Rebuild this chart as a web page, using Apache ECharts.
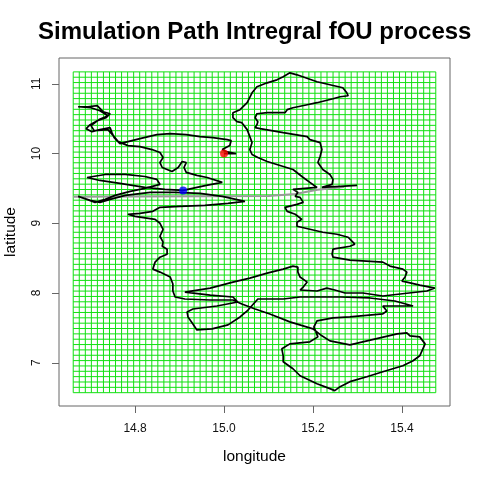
<!DOCTYPE html>
<html lang="en">
<head>
	<meta charset="UTF-8">
	<title>fOU path</title>
	<style>
		html, body { margin: 0; padding: 0; background: #fff; }
		#main { width: 480px; height: 480px; }
	</style>
	<script src="https://cdn.jsdelivr.net/npm/echarts@6.0.0/dist/echarts.min.js"></script>
</head>
<body>
	<div id="main"></div>
	<script>
		// simulated path (longitude / latitude)
		var lon = [15.000, 15.027, 15.004, 14.996, 15.013, 15.016, 15.007, 14.975, 14.946, 14.915,
			14.879, 14.849, 14.811, 14.784, 14.766, 14.753, 14.748, 14.744, 14.721, 14.703,
			14.690, 14.699, 14.715, 14.735, 14.744, 14.728, 14.715, 14.694, 14.672, 14.701,
			14.721, 14.739, 14.719, 14.701, 14.708, 14.739, 14.751, 14.762, 14.784, 14.811,
			14.838, 14.856, 14.863, 14.856, 14.861, 14.883, 14.897, 14.906, 14.915, 14.910,
			14.915, 14.939, 14.962, 14.996, 14.960, 14.908, 14.867, 14.822, 14.766, 14.721,
			14.692, 14.733, 14.778, 14.822, 14.849, 14.856, 14.822, 14.789, 14.755, 14.733,
			14.710, 14.692, 14.672, 14.699, 14.721, 14.744, 14.778, 14.834, 14.890, 14.946,
			14.996, 15.047, 15.009, 14.957, 14.901, 14.856, 14.840, 14.811, 14.784, 14.800,
			14.845, 14.856, 14.863, 14.856, 14.863, 14.861, 14.872, 14.872, 14.856, 14.845,
			14.840, 14.856, 14.879, 14.885, 14.885, 14.890, 14.912, 14.969, 15.020, 15.040,
			15.070, 15.103, 15.148, 15.200, 15.220, 15.238, 15.283, 15.389, 15.411, 15.418,
			15.440, 15.452, 15.440, 15.425, 15.402, 15.357, 15.321, 15.283, 15.261, 15.249,
			15.238, 15.209, 15.171, 15.155, 15.133, 15.133, 15.130, 15.148, 15.193, 15.211,
			15.202, 15.209, 15.245, 15.283, 15.357, 15.366, 15.357, 15.425, 15.384, 15.328,
			15.261, 15.171, 15.133, 15.076, 15.052, 15.036, 15.009, 14.973, 14.939, 14.930,
			14.919, 14.917, 14.930, 14.984, 15.031, 15.020, 14.969, 14.912, 14.969, 15.020,
			15.058, 15.097, 15.133, 15.155, 15.166, 15.166, 15.171, 15.187, 15.178, 15.171,
			15.209, 15.231, 15.249, 15.272, 15.312, 15.357, 15.396, 15.456, 15.474, 15.440,
			15.411, 15.400, 15.407, 15.411, 15.402, 15.373, 15.357, 15.283, 15.245, 15.243,
			15.245, 15.283, 15.294, 15.279, 15.254, 15.222, 15.193, 15.164, 15.164, 15.175,
			15.160, 15.142, 15.137, 15.164, 15.178, 15.171, 15.160, 15.166, 15.155, 15.182,
			15.209, 15.193, 15.178, 15.155, 15.097, 15.076, 15.063, 15.058, 15.063, 15.058,
			15.052, 15.040, 15.029, 15.020, 15.020, 15.036, 15.052, 15.063, 15.074, 15.097,
			15.119, 15.133, 15.148, 15.164, 15.209, 15.267, 15.276, 15.279, 15.261, 15.245,
			15.209, 15.187, 15.155, 15.142, 15.137, 15.119, 15.097, 15.074, 15.070, 15.076,
			15.074, 15.070, 15.081, 15.133, 15.187, 15.193, 15.216, 15.220, 15.216, 15.211,
			15.222, 15.238, 15.245, 15.243, 15.220, 15.261, 15.299];
		var lat = [10.000, 10.000, 10.029, 10.057, 10.114, 10.186, 10.200, 10.229, 10.243, 10.271,
			10.286, 10.271, 10.214, 10.171, 10.143, 10.229, 10.300, 10.371, 10.343, 10.314,
			10.357, 10.414, 10.471, 10.514, 10.571, 10.600, 10.686, 10.671, 10.671, 10.657,
			10.614, 10.543, 10.486, 10.400, 10.329, 10.343, 10.257, 10.171, 10.114, 10.100,
			10.057, 10.014, 9.943, 9.871, 9.800, 9.743, 9.800, 9.886, 9.871, 9.800,
			9.729, 9.686, 9.657, 9.586, 9.543, 9.471, 9.486, 9.514, 9.571, 9.614,
			9.657, 9.700, 9.700, 9.671, 9.629, 9.557, 9.500, 9.457, 9.400, 9.343,
			9.300, 9.343, 9.386, 9.329, 9.300, 9.343, 9.400, 9.443, 9.443, 9.429,
			9.386, 9.314, 9.286, 9.257, 9.243, 9.229, 9.171, 9.143, 9.129, 9.100,
			9.057, 9.000, 8.914, 8.814, 8.729, 8.671, 8.629, 8.557, 8.514, 8.443,
			8.343, 8.300, 8.229, 8.129, 8.029, 7.943, 7.914, 7.900, 7.900, 7.843,
			7.771, 7.700, 7.586, 7.486, 7.386, 7.314, 7.257, 7.414, 7.429, 7.386,
			7.371, 7.271, 7.100, 7.029, 6.957, 6.871, 6.800, 6.729, 6.657, 6.600,
			6.629, 6.700, 6.814, 6.914, 7.014, 7.100, 7.200, 7.271, 7.300, 7.371,
			7.514, 7.600, 7.643, 7.657, 7.700, 7.743, 7.814, 7.814, 7.886, 7.929,
			7.943, 7.943, 7.914, 7.914, 7.743, 7.657, 7.543, 7.486, 7.471, 7.557,
			7.657, 7.729, 7.771, 7.814, 7.871, 7.943, 7.971, 8.014, 8.071, 8.157,
			8.214, 8.286, 8.343, 8.386, 8.371, 8.300, 8.229, 8.157, 8.086, 8.043,
			8.029, 8.071, 8.043, 8.000, 8.000, 7.957, 7.986, 8.029, 8.071, 8.114,
			8.157, 8.171, 8.229, 8.300, 8.343, 8.386, 8.443, 8.471, 8.514, 8.557,
			8.629, 8.671, 8.700, 8.800, 8.843, 8.871, 8.914, 8.957, 9.014, 9.057,
			9.129, 9.171, 9.229, 9.271, 9.300, 9.371, 9.386, 9.443, 9.486, 9.500,
			9.514, 9.586, 9.657, 9.771, 9.886, 9.943, 9.986, 10.057, 10.157, 10.243,
			10.343, 10.443, 10.457, 10.514, 10.586, 10.629, 10.729, 10.871, 10.957, 11.014,
			11.057, 11.100, 11.157, 11.129, 11.029, 10.943, 10.871, 10.829, 10.814, 10.786,
			10.729, 10.700, 10.657, 10.629, 10.586, 10.586, 10.586, 10.571, 10.514, 10.457,
			10.414, 10.371, 10.357, 10.300, 10.243, 10.200, 10.157, 10.057, 9.957, 9.871,
			9.771, 9.700, 9.629, 9.557, 9.514, 9.529, 9.543];

		// grey straight line under the path
		var grayLon = [14.661, 15.100, 15.160, 15.210, 15.270];
		var grayLat = [9.380, 9.390, 9.420, 9.480, 9.520];

		// start (red) and end (blue) points
		var startPt = [15.000, 10.000];
		var endPt = [14.908, 9.471];

		// tick labels
		var lonTicks = [14.8, 15.0, 15.2, 15.4];
		var latTicks = [7, 8, 9, 10, 11];

		// green lattice covering the path's extent
		var latticeLon = [14.661, 15.476];
		var latticeLat = [6.571, 11.171];
		var latticeN = 60;

		var myChart = echarts.init(document.getElementById('main'), null, {renderer: 'canvas'});

		function pairs(xs, ys){
			var out = [];
			for (var i = 0; i < xs.length; i++) out.push([xs[i], ys[i]]);
			return out;
		}

		//网格线
		function renderLattice(params, api){
			var kids = [];
			var st = {stroke: '#11e011', lineWidth: 1};
			for (var i = 0; i <= latticeN; i++) {
				var x = latticeLon[0] + (latticeLon[1] - latticeLon[0]) * i / latticeN;
				var a = api.coord([x, latticeLat[0]]), b = api.coord([x, latticeLat[1]]);
				kids.push({type: 'line', shape: {x1: a[0], y1: a[1], x2: b[0], y2: b[1]}, style: st});
			}
			for (var j = 0; j <= latticeN; j++) {
				var y = latticeLat[0] + (latticeLat[1] - latticeLat[0]) * j / latticeN;
				var c = api.coord([latticeLon[0], y]), d = api.coord([latticeLon[1], y]);
				kids.push({type: 'line', shape: {x1: c[0], y1: c[1], x2: d[0], y2: d[1]}, style: st});
			}
			return {type: 'group', children: kids};
		}

		var option = {
			animation: false,
			backgroundColor: '#fff',
			title: {
				text: 'Simulation Path Intregral fOU process',
				left: 38,
				top: 20,
				padding: 0,
				textStyle: {
					fontFamily: 'Liberation Sans',
					fontWeight: 'bold',
					fontSize: 24,
					color: '#000'
				}
			},
			grid: {
				left: 59,
				right: 30,
				top: 58,
				bottom: 74,
				containLabel: false,
				outerBoundsMode: 'none',
				show: true,
				borderColor: '#666',
				borderWidth: 1,
				backgroundColor: '#fff'
			},
			xAxis: {
				type: 'value',
				min: 14.629,
				max: 15.508,
				name: 'longitude',
				nameLocation: 'middle',
				nameGap: 43,
				nameTextStyle: {fontFamily: 'Liberation Sans', fontSize: 15.5, color: '#000'},
				axisLine: {show: false},
				axisTick: {show: true, customValues: lonTicks, length: 7, lineStyle: {color: '#666'}},
				axisLabel: {
					customValues: lonTicks,
					margin: 17,
					fontFamily: 'Liberation Sans',
					fontSize: 12,
					color: '#111',
					formatter: function(v){ return v.toFixed(1); }
				},
				splitLine: {show: false}
			},
			yAxis: {
				type: 'value',
				min: 6.38,
				max: 11.37,
				name: 'latitude',
				nameLocation: 'middle',
				nameGap: 40,
				nameRotate: 90,
				nameTextStyle: {fontFamily: 'Liberation Sans', fontSize: 15.5, color: '#000'},
				axisLine: {show: false},
				axisTick: {show: true, customValues: latTicks, length: 7, lineStyle: {color: '#666'}},
				axisLabel: {
					customValues: latTicks,
					rotate: 90,
					margin: 16,
					fontFamily: 'Liberation Sans',
					fontSize: 12,
					color: '#111'
				},
				splitLine: {show: false}
			},
			series: [
				{
					name: 'lattice',
					type: 'custom',
					renderItem: renderLattice,
					data: [[latticeLon[0], latticeLat[0]]],
					silent: true,
					z: 1
				},
				{
					name: 'grey',
					type: 'line',
					data: pairs(grayLon, grayLat),
					showSymbol: false,
					lineStyle: {color: '#9a9a9a', width: 2},
					z: 2
				},
				{
					name: 'path',
					type: 'line',
					data: pairs(lon, lat),
					showSymbol: false,
					lineStyle: {color: '#000', width: 1.7},
					z: 3
				},
				{
					name: 'start',
					type: 'scatter',
					data: [startPt],
					symbolSize: 8,
					itemStyle: {color: '#ff0000'},
					z: 4
				},
				{
					name: 'end',
					type: 'scatter',
					data: [endPt],
					symbolSize: 8,
					itemStyle: {color: '#0000ff'},
					z: 4
				}
			]
		};

		myChart.setOption(option);
	</script>
</body>
</html>
